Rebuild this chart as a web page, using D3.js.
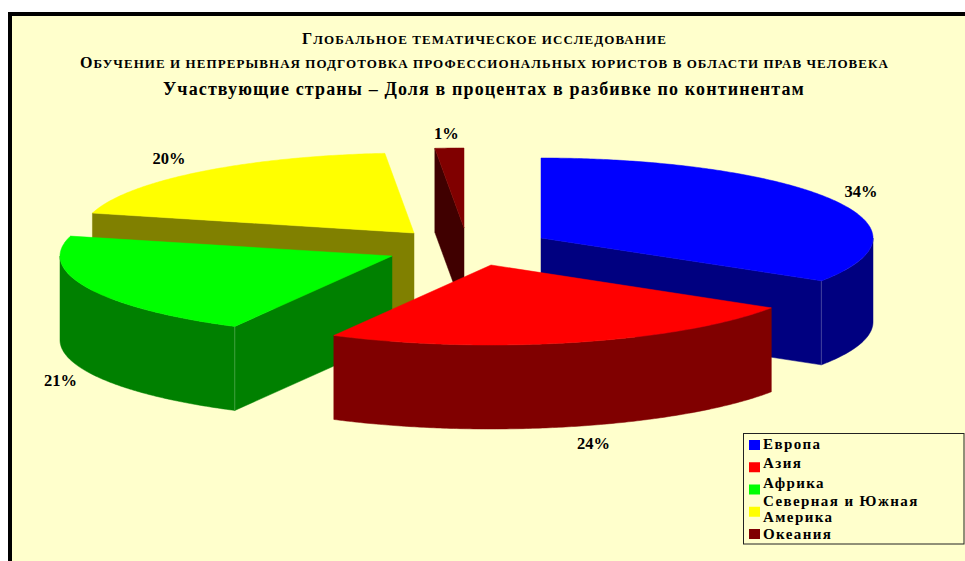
<!DOCTYPE html>
<html><head><meta charset="utf-8">
<script src="https://cdn.jsdelivr.net/npm/d3@7"></script>
<style>html,body{margin:0;padding:0;background:#fff;overflow:hidden}svg{display:block}text{font-family:"Liberation Serif",serif;font-weight:bold;fill:#000}</style>
</head><body><script>
const categories = ["Европа","Азия","Африка","Северная и Южная Америка","Океания"];
const values = [34,23.85,21.15,19.6,1.4];
const colors = ["#0000ff","#ff0000","#00ff00","#ffff00","#800000"];
const legendLines = ["Европа","Азия","Африка","Северная и Южная","Америка","Океания"];
const titleLines = ["Глобальное тематическое исследование","Обучение и непрерывная подготовка профессиональных юристов в области прав человека","Участвующие страны – Доля в процентах в разбивке по континентам"];

// layout only
const W=965,H=561, RX=332, RY=80, DEPTH=84;
const centers=[[541,238],[491,265],[392,256],[414,233],[464,228]];
const labelK=[1.1,1.22,1.09,1.14,1.2], labelDy=[-4,0,5,-5,1];
const paintOrder=[4,3,0,2,1];
const legendBaselines=[449,468,488,506,522,539];

const svg=d3.select("body").append("svg").attr("width",W).attr("height",H);
svg.append("rect").attr("width",W).attr("height",H).attr("fill","#fff");
svg.append("rect").attr("x",8).attr("y",12).attr("width",W-8).attr("height",H-12).attr("fill","#000");
svg.append("rect").attr("x",12).attr("y",16).attr("width",W-12).attr("height",H-16).attr("fill","#ffffcc");

const xs=d3.scaleLinear().domain([-1,1]).range([-RX,RX]);
const ys=d3.scaleLinear().domain([-1,1]).range([-RY,RY]);
const pie=d3.pie().sort(null).startAngle(0).endAngle(2*Math.PI);
const arcs=pie(values);
const line=d3.line();
const shade=c=>d3.interpolateRgb(c,"#000")(0.5);
const pt=(i,a,dz=0)=>[centers[i][0]+xs(Math.sin(a)),centers[i][1]+ys(-Math.cos(a))+dz];
const sweep=(i,a0,a1,dz=0)=>{const n=Math.max(2,Math.ceil((a1-a0)/0.01));
  return d3.range(n+1).map(k=>pt(i,a0+(a1-a0)*k/n,dz));};

paintOrder.forEach(i=>{
  const a=arcs[i], g=svg.append("g"), dark=shade(colors[i]), c=centers[i];
  const face=ang=>{const p=pt(i,ang);
    g.append("path").attr("fill",dark).attr("stroke",dark).attr("stroke-width",0.5)
     .attr("d",line([c,p,[p[0],p[1]+DEPTH],[c[0],c[1]+DEPTH]])+"Z");
    return p;};
  let seam=null;
  if(Math.sin(a.startAngle)<-1e-6) seam=face(a.startAngle);
  if(Math.sin(a.endAngle)>1e-6) seam=face(a.endAngle);
  const r0=Math.max(a.startAngle,Math.PI/2), r1=Math.min(a.endAngle,3*Math.PI/2);
  if(r1>r0){
    g.append("path").attr("fill",dark).attr("stroke",dark).attr("stroke-width",0.5)
     .attr("d",line(sweep(i,r0,r1).concat(sweep(i,r0,r1,DEPTH).reverse()))+"Z");
    if(seam) g.append("path").attr("stroke","#fff").attr("stroke-opacity",0.3).attr("stroke-width",0.7).attr("fill","none")
      .attr("d",line([seam,[seam[0],seam[1]+DEPTH]]));
  }
  g.append("path").attr("fill",colors[i]).attr("stroke",colors[i]).attr("stroke-width",0.5)
   .attr("d",line([c].concat(sweep(i,a.startAngle,a.endAngle)))+"Z");
});

// percent labels
const fmt=d3.format(".0f");
arcs.forEach((a,i)=>{
  const m=(a.startAngle+a.endAngle)/2, k=labelK[i];
  const x=centers[i][0]+xs(Math.sin(m))*k;
  const front=m>Math.PI/2&&m<1.5*Math.PI;
  const y=centers[i][1]+ys(-Math.cos(m))*k+(front?DEPTH:0)+labelDy[i];
  svg.append("text").attr("x",x).attr("y",y).attr("text-anchor","middle").attr("dominant-baseline","central")
    .attr("font-size",16.5).text(fmt(a.value)+"%");
});

// fit a title line to a measured width through letter-spacing
function fit(t,target){
  const len=t.node().getComputedTextLength(), n=t.text().length;
  t.attr("letter-spacing",(target-len)/n);
}
function capsTitle(s,y,target){
  const t=svg.append("text").attr("x",484.5).attr("y",y).attr("text-anchor","middle");
  t.append("tspan").attr("font-size",16).text(s[0]);
  t.append("tspan").attr("font-size",13).style("text-transform","uppercase").text(s.slice(1));
  fit(t,target);
}
capsTitle(titleLines[0],44,365);
capsTitle(titleLines[1],68,809);
const t3=svg.append("text").attr("x",484).attr("y",95).attr("text-anchor","middle").attr("font-size",18).text(titleLines[2]);
fit(t3,642);

// legend
const leg=svg.append("g");
leg.append("rect").attr("x",743.5).attr("y",433.5).attr("width",220.5).attr("height",110.5)
  .attr("fill","#ffffcc").attr("stroke","#222").attr("stroke-width",1);
const keyY=d3.scalePoint().domain(categories).range([440,529]);
categories.forEach((c,i)=>{
  leg.append("rect").attr("x",749).attr("y",keyY(c)).attr("width",11).attr("height",10).attr("fill",colors[i]);
});
legendLines.forEach((t,j)=>{
  leg.append("text").attr("x",763).attr("y",legendBaselines[j]).attr("font-size",15)
    .attr("letter-spacing",1.4).text(t);
});
</script></body></html>
